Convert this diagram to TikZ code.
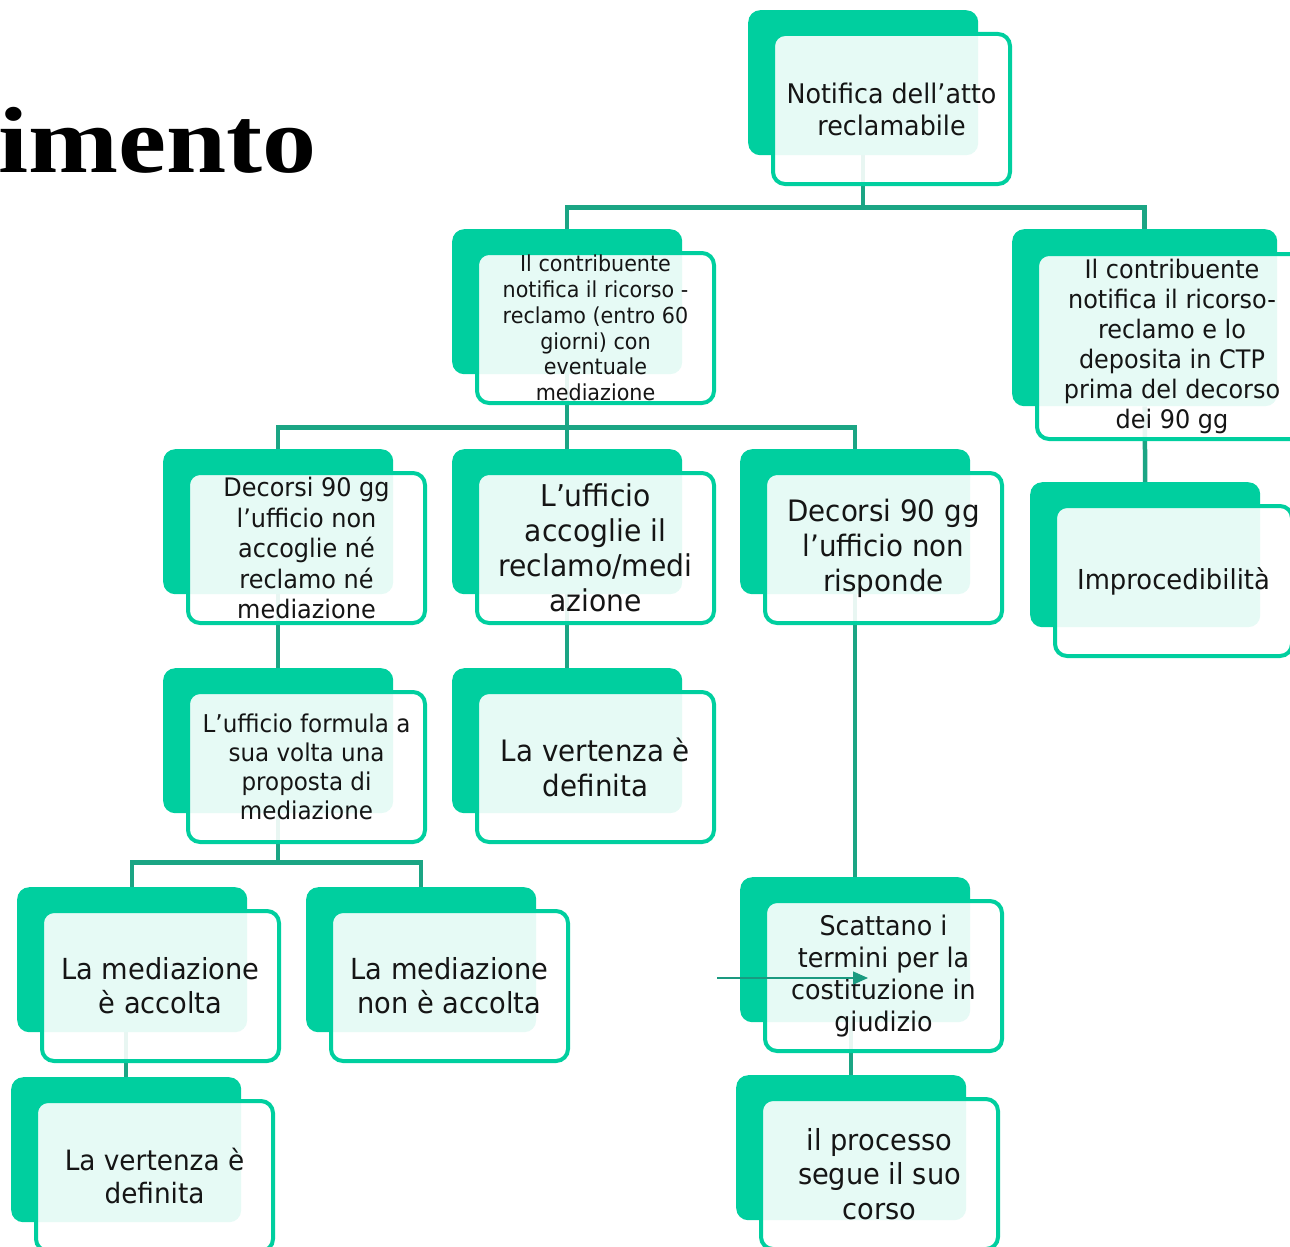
\documentclass[tikz,border=0pt]{standalone}
\usepackage{fontspec}
\setmainfont[FakeStretch=0.94]{DejaVu Sans}
\newfontfamily\titlefont[FakeStretch=1.15]{Liberation Serif}
\usetikzlibrary{arrows.meta}
\definecolor{mint}{HTML}{00CF9F}
\definecolor{linkc}{HTML}{1BA584}
\definecolor{arrc}{HTML}{1A9A80}
\definecolor{ink}{HTML}{151515}
\pgfdeclarelayer{bg}
\pgfsetlayers{bg,main}
\tikzset{
  backbox/.style={draw=none, fill=mint, rounded corners=12pt, minimum width=230pt, minimum height=145pt, inner sep=0pt, anchor=north west},
  frontbox/.style={draw=mint, line width=4pt, fill=white, fill opacity=0.9, rounded corners=12pt, minimum width=237pt, minimum height=150pt, inner sep=0pt, anchor=north west},
  txt/.style={align=center, inner sep=0pt, text=ink},
  link/.style={draw=linkc, line width=4.5pt},
}
\newcommand\flowbox[6]{%
  \node[backbox] (#1b) at (#2,#3) {};
  \node[frontbox, xshift=23pt, yshift=-22pt] (#1f) at (#2,#3) {};
  \node[txt, font=\fontsize{#4}{#5}\selectfont] (#1t) at (#1f.center) {#6};
}
\begin{document}
\begin{tikzpicture}[x=1pt,y=-1pt]
\clip (0,0) rectangle (1290,1247);

\node[anchor=base west, inner sep=0pt, font=\titlefont\bfseries\fontsize{94}{94}\selectfont] (title) at (-2,172) {imento};

\flowbox{n1}{748}{10}{27}{32}{Notifica dell’atto\\reclamabile}
\flowbox{n2}{452}{229}{22}{25.8}{Il contribuente\\notifica il ricorso -\\reclamo (entro 60\\giorni) con\\eventuale\\mediazione}
% node 3 (larger)
\node[backbox, minimum width=265pt, minimum height=177pt] (n3b) at (1012,229) {};
\node[frontbox, minimum width=270pt, minimum height=185pt, xshift=23pt, yshift=-23pt] (n3f) at (1012,229) {};
\node[txt, font=\fontsize{25.5}{30}\selectfont] (n3t) at (n3f.center) {Il contribuente\\notifica il ricorso-\\reclamo e lo\\deposita in CTP\\prima del decorso\\dei 90 gg};

\flowbox{nA}{163}{449}{25.5}{30.5}{Decorsi 90 gg\\l’ufficio non\\accoglie né\\reclamo né\\mediazione}
\flowbox{nB}{452}{449}{30}{35}{L’ufficio\\accoglie il\\reclamo/medi\\azione}
\flowbox{nC}{740}{449}{29.5}{35}{Decorsi 90 gg\\l’ufficio non\\risponde}
\flowbox{nD}{1030}{482}{27.5}{32}{Improcedibilità}
\flowbox{nE}{163}{668}{24.5}{29}{L’ufficio formula a\\sua volta una\\proposta di\\mediazione}
\flowbox{nF}{452}{668}{29.5}{35}{La vertenza è\\definita}
\flowbox{nG}{740}{877}{27}{32}{Scattano i\\termini per la\\costituzione in\\giudizio}
\flowbox{nH}{736}{1075}{29}{34.5}{il processo\\segue il suo\\corso}
\flowbox{nI}{17}{887}{29}{34}{La mediazione\\è accolta}
\flowbox{nJ}{306}{887}{29}{34}{La mediazione\\non è accolta}
\flowbox{nK}{11}{1077}{28}{33}{La vertenza è\\definita}

\begin{pgfonlayer}{bg}
\draw[link] (n1b.south) -- ++(0,52) coordinate (j1) -| (n2b.north);
\draw[link] (j1) -| (n3b.north);
\draw[link] (n2b.south) -- ++(0,53) coordinate (j2) -| (nAb.north);
\draw[link] (j2) -- (nBb.north);
\draw[link] (j2) -| (nCb.north);
\draw[link] (n3b.south) -- (nDb.north);
\draw[link] (nAb.south) -- (nEb.north);
\draw[link] (nBb.south) -- (nFb.north);
\draw[link] (nCb.south) -- (nGb.north);
\draw[link] (nEb.south) -- ++(0,49) coordinate (j3) -| (nIb.north);
\draw[link] (j3) -| (nJb.north);
\draw[link] (nKb.north |- nIb.south) -- (nKb.north);
\draw[link] (nHb.north |- nGb.south) -- (nHb.north);
\end{pgfonlayer}

\coordinate (a1) at (717,978);
\coordinate (a2) at (868,978);
\draw[draw=arrc, line width=1.5pt, -{Triangle[length=15pt,width=13pt,fill=arrc]}] (a1) -- (a2);
\end{tikzpicture}
\end{document}
